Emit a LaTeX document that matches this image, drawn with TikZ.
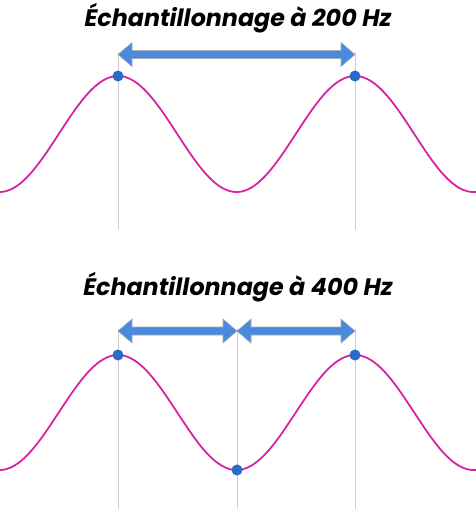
\documentclass[tikz,border=0pt]{standalone}
\usepackage{fontspec}
\setmainfont{Poppins}
\begin{document}
\begin{tikzpicture}[x=1pt,y=-1pt,
  wave/.style={draw={rgb,255:red,214;green,36;blue,160}, line width=1.8pt},
  vline/.style={draw={rgb,255:red,205;green,205;blue,205}, line width=1pt},
  bluearrow/.style={fill={rgb,255:red,74;green,138;blue,222}, draw={rgb,255:red,165;green,170;blue,180}, line width=0.6pt, line join=miter},
  sample/.style={circle, fill={rgb,255:red,40;green,108;blue,205}, draw={rgb,255:red,30;green,90;blue,180}, line width=0.3pt, inner sep=0pt, minimum size=10.5pt},
  title/.style={font=\fontsize{23.8}{28}\selectfont\bfseries\itshape, inner sep=0pt}
]
\useasboundingbox (0,0) rectangle (476,509);

% titles
\node[title] (t1) at (238,18) {Échantillonnage à 200 Hz};
\node[title] (t2) at (238,287) {Échantillonnage à 400 Hz};

% vertical guide lines
\coordinate (a1) at (118,52); \coordinate (a2) at (118,230);
\coordinate (b1) at (355,52); \coordinate (b2) at (355,230);
\draw[vline] (a1) -- (a2);
\draw[vline] (b1) -- (b2);
\coordinate (c1) at (118,329); \coordinate (c2) at (118,509);
\coordinate (d1) at (237,329); \coordinate (d2) at (237,509);
\coordinate (e1) at (355,329); \coordinate (e2) at (355,509);
\draw[vline] (c1) -- (c2);
\draw[vline] (d1) -- (d2);
\draw[vline] (e1) -- (e2);

% waves
\draw[wave] plot[domain=0:476, samples=240, smooth] (\x, {134 - 58*cos((\x-118)/237*360)});
\draw[wave] plot[domain=0:476, samples=240, smooth] (\x, {412.5 - 57.5*cos((\x-118)/237*360)});

% double arrows
\newcommand{\dblarrow}[3]{% x1, x2, y
  \draw[bluearrow] (#1,#3) -- (#1+14,#3-12) -- (#1+14,#3-4) -- (#2-14,#3-4) -- (#2-14,#3-12) -- (#2,#3) -- (#2-14,#3+12) -- (#2-14,#3+4) -- (#1+14,#3+4) -- (#1+14,#3+12) -- cycle;}
\dblarrow{118}{355}{54.5}
\dblarrow{118}{237}{331}
\dblarrow{237}{355}{331}

% sample points
\node[sample] (p1) at (118,76) {};
\node[sample] (p2) at (355,76) {};
\node[sample] (q1) at (118,355) {};
\node[sample] (q2) at (237,470) {};
\node[sample] (q3) at (355,355) {};
\end{tikzpicture}
\end{document}
